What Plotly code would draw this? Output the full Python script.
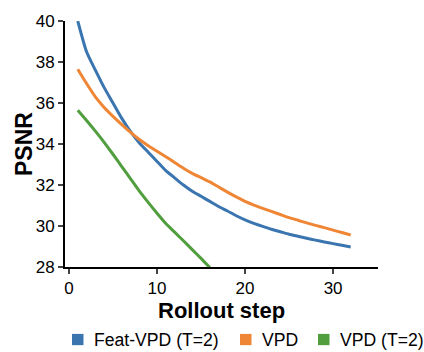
import plotly.graph_objects as go

steps_feat = list(range(1, 33))
psnr_feat = [40.0, 38.5, 37.6, 36.75, 36.0, 35.25, 34.6, 34.05, 33.6, 33.15,
             32.7, 32.35, 32.0, 31.7, 31.45, 31.2, 30.95, 30.73, 30.5, 30.3,
             30.13, 29.98, 29.84, 29.72, 29.6, 29.5, 29.4, 29.31, 29.22, 29.14,
             29.06, 28.98]
steps_vpd = list(range(1, 33))
psnr_vpd = [37.65, 36.95, 36.3, 35.78, 35.35, 34.95, 34.57, 34.22, 33.92, 33.65,
            33.38, 33.1, 32.82, 32.57, 32.36, 32.15, 31.9, 31.65, 31.42, 31.2,
            31.02, 30.86, 30.71, 30.56, 30.41, 30.28, 30.15, 30.03, 29.92, 29.8,
            29.68, 29.56]
steps_vpd2 = list(range(1, 17))
psnr_vpd2 = [35.65, 35.15, 34.63, 34.08, 33.5, 32.9, 32.3, 31.7, 31.15, 30.62,
             30.12, 29.7, 29.28, 28.85, 28.42, 27.97]

names = ["Feat-VPD (T=2)", "VPD", "VPD (T=2)"]
colors = ["#3a75b0", "#ef8636", "#519e3e"]
series = [(steps_feat, psnr_feat), (steps_vpd, psnr_vpd), (steps_vpd2, psnr_vpd2)]

y_ticks = [28, 30, 32, 34, 36, 38, 40]
x_ticks = [0, 10, 20, 30]
x_title = "Rollout step"
y_title = "PSNR"

W, H = 424, 352
L, R, T, B = 65, 46, 16, 85
PW, PH = W - L - R, H - T - B


def px(x):
    return (x - L) / PW


def py(y):
    return (H - B - y) / PH


fig = go.Figure()
for (xs, ys), c, n in zip(series, colors, names):
    fig.add_trace(go.Scatter(x=xs, y=ys, mode="lines", name=n,
                             line=dict(color=c, width=3, shape="spline", smoothing=0.6),
                             showlegend=False))

# manual legend (layout positions in pixels of the page)
legend_marker_left = [72, 240, 318]
legend_text_left = [93, 261, 339]
legend_cy = 341
sq = 11.5
shapes = []
annotations = []
for n, c, mx, tx in zip(names, colors, legend_marker_left, legend_text_left):
    shapes.append(dict(type="rect", xref="paper", yref="paper",
                       x0=px(mx), x1=px(mx + sq),
                       y0=py(legend_cy - sq / 2), y1=py(legend_cy + sq / 2),
                       fillcolor=c, line=dict(width=0)))
    annotations.append(dict(text=n, xref="paper", yref="paper",
                            x=px(tx), y=py(legend_cy),
                            xanchor="left", yanchor="middle", showarrow=False,
                            xshift=-1, font=dict(size=17.6)))

annotations.append(dict(text="<b>%s</b>" % x_title, xref="paper", yref="paper",
                        x=0.5, y=py(311), xanchor="center", yanchor="middle",
                        showarrow=False, font=dict(size=22)))
annotations.append(dict(text="<b>%s</b>" % y_title, xref="paper", yref="paper",
                        x=px(24), y=0.5, xanchor="center", yanchor="middle",
                        textangle=-90, showarrow=False, font=dict(size=23)))

font = "Liberation Sans, Arial, sans-serif"
fig.update_layout(
    width=W, height=H,
    margin=dict(l=L, r=R, t=T, b=B),
    paper_bgcolor="white", plot_bgcolor="white",
    font=dict(family=font, size=17, color="black"),
    showlegend=False,
    shapes=shapes, annotations=annotations,
)
fig.update_xaxes(range=[-0.45, 35.1], tickvals=x_ticks, ticks="outside", ticklen=5,
                 tickwidth=1.5, showline=True, linecolor="black", linewidth=2,
                 showgrid=False, zeroline=False)
fig.update_yaxes(range=[28, 40], tickvals=y_ticks, ticks="outside", ticklen=5,
                 tickwidth=1.5, showline=True, linecolor="black", linewidth=2,
                 showgrid=False, zeroline=False)

fig.write_html("out.html")
